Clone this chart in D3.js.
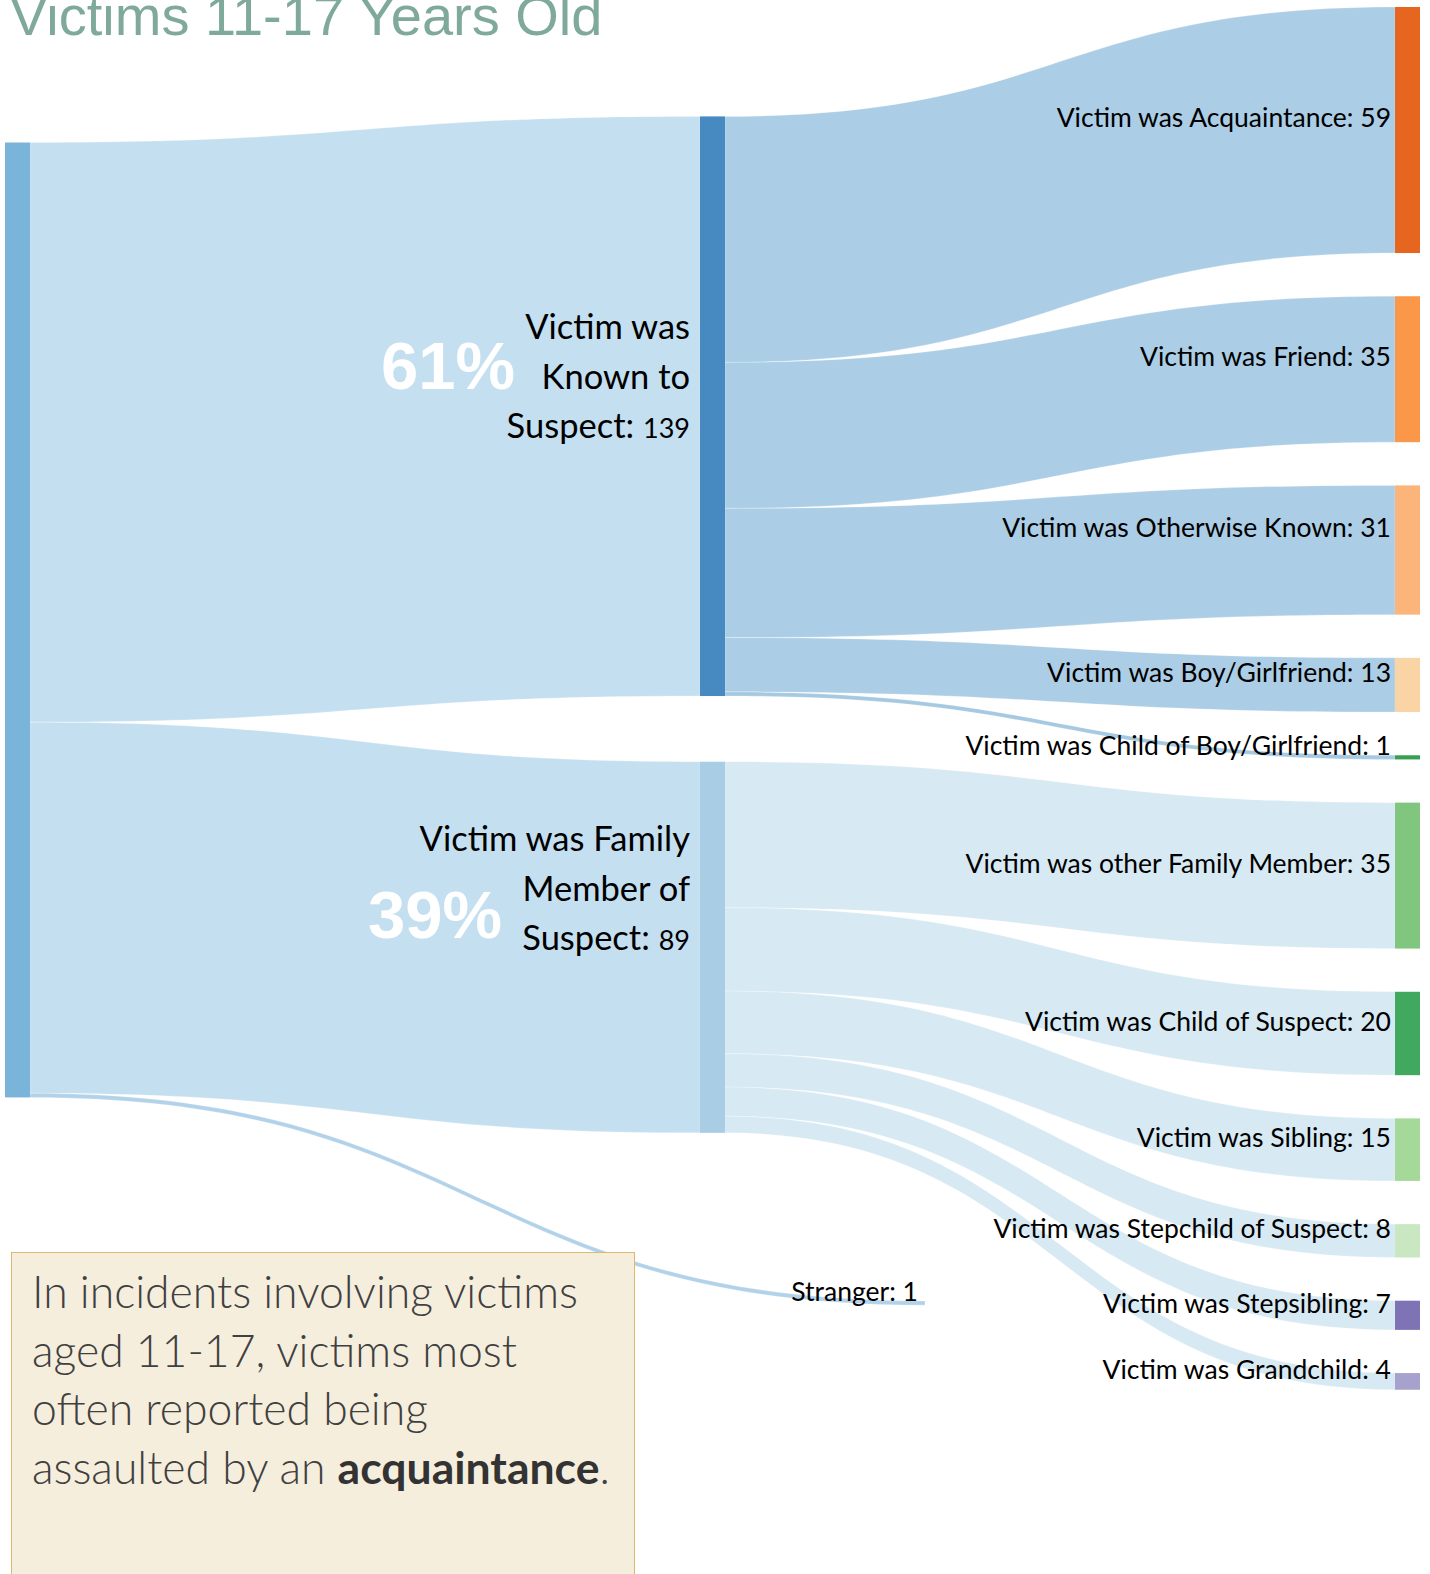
<!DOCTYPE html>
<html>
<head>
<meta charset="utf-8">
<title>Victims 11-17 Years Old</title>
<script src="https://d3js.org/d3.v7.min.js"></script>
<style>
  body { margin: 0; background: #fff; }
  svg { display: block; }
  .lbl { font-family: Lato, "Open Sans", sans-serif; fill: #000; }
</style>
</head>
<body>
<svg id="chart"></svg>
<script>
// data
var titleText = "Victims 11-17 Years Old";
var midNames = ["Victim was Known to Suspect", "Victim was Family Member of Suspect", "Stranger"];
var midValues = [139, 89, 1];
var midLines = [["Victim was", "Known to", "Suspect: "], ["Victim was Family", "Member of", "Suspect: "]];

var knownNames = ["Victim was Acquaintance", "Victim was Friend", "Victim was Otherwise Known",
                  "Victim was Boy/Girlfriend", "Victim was Child of Boy/Girlfriend"];
var knownValues = [59, 35, 31, 13, 1];

var familyNames = ["Victim was other Family Member", "Victim was Child of Suspect", "Victim was Sibling",
                   "Victim was Stepchild of Suspect", "Victim was Stepsibling", "Victim was Grandchild"];
var familyValues = [35, 20, 15, 8, 7, 4];

var noteLines = ["In incidents involving victims", "aged 11-17, victims most", "often reported being", "assaulted by an "];
var noteBold = "acquaintance";

// colours
var rightColors = ["#e6661f", "#fa9748", "#fbb57b", "#fbd4a6", "#3a9f55",
                   "#80c67f", "#41a85f", "#a5d99a", "#c9e8c2", "#7e73b4", "#a6a2cd"];
var rootColor = "#7ab5d9", midColors = ["#468ac1", "#a8cde4"];

w = 1430; h = 1574;

var svg = d3.select("#chart").attr("width", w).attr("height", h);

// scales
var total = d3.sum(knownValues) + d3.sum(familyValues);
var hScale = d3.scaleLinear().domain([0, total]).range([0, total * 4.17]);
var xCol = d3.scaleLinear().domain([0, 2]).range([5, 1395]);
var nodeW = 25;

// stack nodes in a column
function stack(values, top, pad) {
  var y = top;
  return values.map(function(v) {
    var n = {y0: y, y1: y + hScale(v), value: v};
    y = n.y1 + pad;
    return n;
  });
}

var rootNode = stack([d3.sum(midValues)], 142.5, 0)[0];
var midNodes = stack(midValues.slice(0, 2), 116.4, 65.7);
midNodes.push({y0: 1301, y1: 1301 + hScale(1), value: 1});   // stranger, no bar
var rightValues = knownValues.concat(familyValues);
var rightNames = knownNames.concat(familyNames);
var rightNodes = stack(rightValues, 7, 43.2);

function ribbon(x0, x1, s0, s1, t0, t1) {
  var xm = (x0 + x1) / 2, p = d3.path();
  p.moveTo(x0, s0);
  p.bezierCurveTo(xm, s0, xm, t0, x1, t0);
  p.lineTo(x1, t1);
  p.bezierCurveTo(xm, t1, xm, s1, x0, s1);
  p.closePath();
  return p.toString();
}

// links root -> middle
var links = [];
var sy = rootNode.y0;
midNodes.forEach(function(n, i) {
  var th = hScale(midValues[i]);
  var tx = i == 2 ? 925 : xCol(1);
  links.push({x0: xCol(0) + nodeW, x1: tx, s0: sy, s1: sy + th, t0: n.y0, t1: n.y0 + th,
              color: i == 2 ? "#b2d2e9" : "#c4dff0"});
  sy += th;
});

// links middle -> right
var ri = 0;
[knownValues, familyValues].forEach(function(vals, m) {
  var y = midNodes[m].y0;
  vals.forEach(function(v) {
    var rn = rightNodes[ri++];
    var th = hScale(v);
    links.push({x0: xCol(1) + nodeW, x1: xCol(2), s0: y, s1: y + th, t0: rn.y0, t1: rn.y1,
                color: m == 0 ? (v == 1 ? "#a6c9e2" : "#abcde5") : "#d7e9f3"});
    y += th;
  });
});

svg.append("g").selectAll("path")
  .data(links)
  .join("path")
    .attr("d", function(d) { return ribbon(d.x0, d.x1, d.s0, d.s1, d.t0, d.t1); })
    .attr("fill", function(d) { return d.color; })
    .attr("stroke", "#fff")
    .attr("stroke-width", 0.4)
    .attr("stroke-opacity", 0.6);

// nodes
svg.append("rect")
  .attr("x", xCol(0)).attr("y", rootNode.y0)
  .attr("width", nodeW).attr("height", rootNode.y1 - rootNode.y0)
  .attr("fill", rootColor);

svg.append("g").selectAll("rect")
  .data(midNodes.slice(0, 2))
  .join("rect")
    .attr("x", xCol(1)).attr("y", function(d) { return d.y0; })
    .attr("width", nodeW).attr("height", function(d) { return d.y1 - d.y0; })
    .attr("fill", function(d, i) { return midColors[i]; });

svg.append("g").selectAll("rect")
  .data(rightNodes)
  .join("rect")
    .attr("x", xCol(2)).attr("y", function(d) { return d.y0; })
    .attr("width", nodeW).attr("height", function(d) { return d.y1 - d.y0; })
    .attr("fill", function(d, i) { return rightColors[i]; });

// right labels (otherwise-known label sits a little higher in the original)
svg.append("g").selectAll("text")
  .data(rightNodes)
  .join("text")
    .attr("class", "lbl")
    .attr("x", xCol(2) - 4)
    .attr("y", function(d, i) { return (d.y0 + d.y1) / 2 - (i == 2 ? 22 : 12); })
    .attr("dy", "0.35em")
    .attr("text-anchor", "end")
    .style("font-size", "26.5px")
    .text(function(d, i) { return rightNames[i] + ": " + d.value; });

// stranger label
svg.append("text")
  .attr("class", "lbl")
  .attr("x", 918).attr("y", midNodes[2].y0)
  .attr("text-anchor", "end")
  .style("font-size", "26.5px")
  .text(midNames[2] + ": " + midValues[2]);

// middle labels with big percentages
var pct = d3.format(".0%");
var midLabelY = [339, 851], pctY = [389, 938], pctX = [515, 502];
midLines.forEach(function(lines, i) {
  var t = svg.append("text")
    .attr("class", "lbl")
    .attr("text-anchor", "end")
    .style("font-size", "34.5px");
  lines.forEach(function(line, j) {
    t.append("tspan").attr("x", xCol(1) - 10).attr("y", midLabelY[i] + j * 49.5).text(line);
    if (j == lines.length - 1) {
      t.append("tspan").style("font-size", "27px").text(midValues[i]);
    }
  });
  svg.append("text")
    .attr("x", pctX[i]).attr("y", pctY[i])
    .attr("text-anchor", "end")
    .style("font-family", "'Liberation Sans', Arial, sans-serif")
    .style("font-weight", "bold")
    .style("font-size", "67px")
    .attr("fill", "#fff")
    .text(pct(midValues[i] / d3.sum(midValues)));
});

// title (cut off at the top, as in the original)
svg.append("text")
  .attr("x", 10).attr("y", 35)
  .style("font-family", "'Liberation Sans Narrow', 'Arial Narrow', sans-serif")
  .style("font-size", "56px")
  .attr("fill", "#7fa99b")
  .text(titleText);

// note box
svg.append("rect")
  .attr("x", 11.5).attr("y", 1252.5)
  .attr("width", 623).attr("height", 340)
  .attr("fill", "#f6eedd")
  .attr("stroke", "#dcb96c");

var note = svg.append("text")
  .style("font-family", "Lato, sans-serif")
  .style("font-weight", 300)
  .style("font-size", "44.5px")
  .attr("fill", "#404040");
noteLines.forEach(function(line, j) {
  note.append("tspan").attr("x", 32).attr("y", 1308 + j * 58.5).text(line);
  if (j == noteLines.length - 1) {
    note.append("tspan").style("font-weight", 700).attr("fill", "#333").text(noteBold);
    note.append("tspan").text(".");
  }
});
</script>
</body>
</html>
